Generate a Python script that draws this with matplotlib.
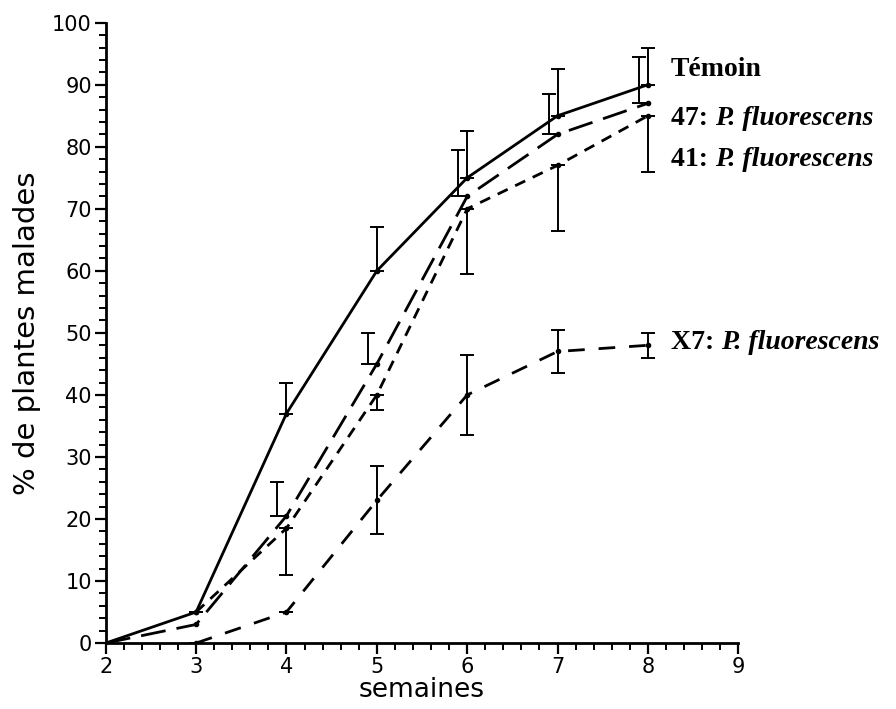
import numpy as np
import matplotlib.pyplot as plt
from matplotlib.ticker import MultipleLocator

# semaines
x_temoin = [2, 3, 4, 5, 6, 7, 8]
y_temoin = [0, 5, 37, 60, 75, 85, 90]
up_temoin = [0, 0, 5, 7, 7.5, 7.5, 6]

x_47 = [2, 3, 4, 5, 6, 7, 8]
y_47 = [0, 3, 20.5, 45, 72, 82, 87]
up_47 = [0, 0, 5.5, 5, 7.5, 6.5, 7.5]

x_41 = [3, 4, 5, 6, 7, 8]
y_41 = [5, 18.5, 40, 70, 77, 85]
lo_41 = [0, 7.5, 2.5, 10.5, 10.5, 9]

x_x7 = [3, 4, 5, 6, 7, 8]
y_x7 = [0, 5, 23, 40, 47, 48]
err_x7 = [0, 0, 5.5, 6.5, 3.5, 2]

labels = ["Témoin", "47: ", "41: ", "X7: "]
label_y = [92.5, 84.5, 78, 48.5]

fig = plt.figure(figsize=(8.96, 7.09), dpi=100)
ax = fig.add_axes([0.118, 0.093, 0.706, 0.875])

lw = 2
eb = dict(fmt='none', ecolor='black', elinewidth=1.4, capsize=5, capthick=1.4)

ax.plot(x_temoin, y_temoin, color='black', lw=lw, marker='o', ms=3)
ax.errorbar(x_temoin, y_temoin, yerr=[np.zeros(len(up_temoin)), up_temoin], **eb)

ax.plot(x_47, y_47, color='black', lw=lw, dashes=(9, 4), marker='o', ms=3)
x_47_bar = np.array(x_47) - 0.1
ax.errorbar(x_47_bar[2:], y_47[2:], yerr=[np.zeros(5), up_47[2:]], **eb)

ax.plot(x_41, y_41, color='black', lw=lw, dashes=(4, 3), marker='o', ms=3)
ax.errorbar(x_41, y_41, yerr=[lo_41, np.zeros(len(lo_41))], **eb)

ax.plot(x_x7, y_x7, color='black', lw=lw, dashes=(6, 5), marker='o', ms=3)
ax.errorbar(x_x7, y_x7, yerr=err_x7, **eb)

# étiquettes à droite
for lab, yy in zip(labels, label_y):
    t = ax.text(8.25, yy, lab, fontsize=20, fontweight='bold',
                family='Liberation Serif', va='center', clip_on=False)
    if lab != "Témoin":
        ax.annotate("P. fluorescens", xy=(1, 0.5), xycoords=t, va='center',
                    fontsize=20, fontweight='bold', fontstyle='italic',
                    family='Liberation Serif', annotation_clip=False)

ax.set_xlim(2, 9)
ax.set_ylim(0, 100)
ax.xaxis.set_major_locator(MultipleLocator(1))
ax.xaxis.set_minor_locator(MultipleLocator(0.2))
ax.yaxis.set_major_locator(MultipleLocator(10))
ax.yaxis.set_minor_locator(MultipleLocator(2))
ax.tick_params(which='major', direction='out', length=8, width=1.6, labelsize=15, pad=2)
ax.tick_params(which='minor', direction='out', length=5, width=1.4)
ax.spines['top'].set_visible(False)
ax.spines['right'].set_visible(False)
ax.spines['left'].set_linewidth(2)
ax.spines['bottom'].set_linewidth(2)
ax.set_xlabel("semaines", fontsize=19, labelpad=0)
ax.set_ylabel("% de plantes malades", fontsize=21, labelpad=8)

fig.savefig("out.png", dpi=100)
